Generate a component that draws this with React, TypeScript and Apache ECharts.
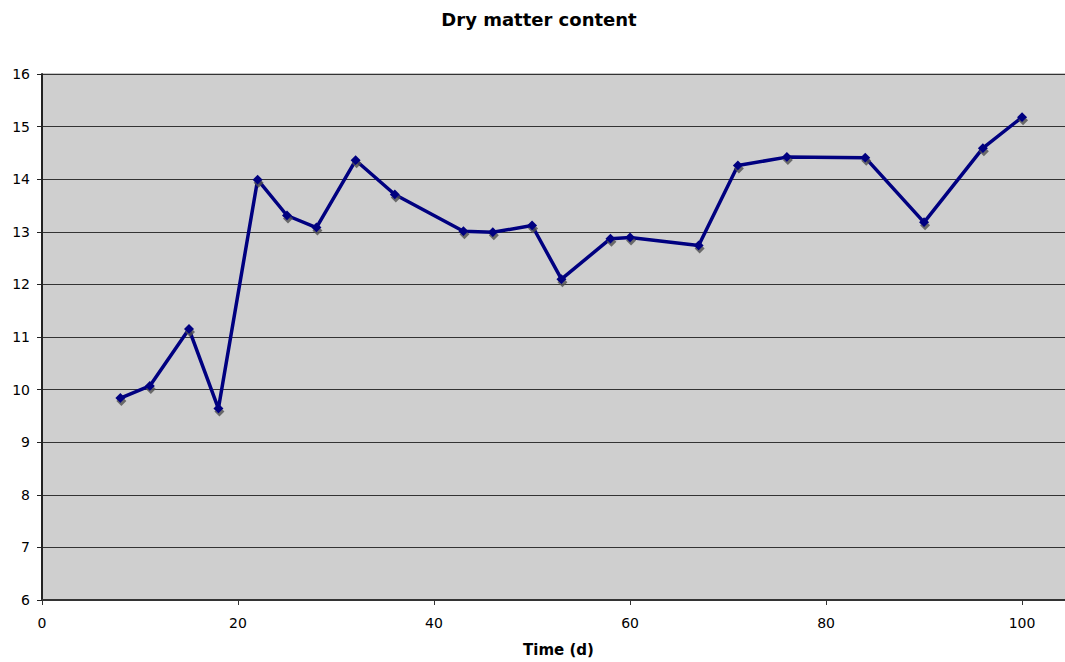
import React, { useEffect, useRef } from "react";
import * as echarts from "echarts";

const days = [8, 11, 15, 18, 22, 25, 28, 32, 36, 43, 46, 50, 53, 58, 60, 67, 71, 76, 84, 90, 96, 100];
const dryMatter = [9.84, 10.07, 11.15, 9.64, 13.99, 13.31, 13.08, 14.36, 13.71, 13.01, 12.99, 13.12, 12.1, 12.87, 12.89, 12.74, 14.26, 14.42, 14.41, 13.18, 14.59, 15.18];
const xTicks = [0, 20, 40, 60, 80, 100];

export default function App() {
  const ref = useRef<HTMLDivElement>(null);
  useEffect(() => {
    document.body.style.margin = "0";
    document.body.style.overflow = "hidden";
    const chart = echarts.init(ref.current!, null, { renderer: "svg" });
    const font = "DejaVu Sans, Verdana, sans-serif";
    chart.setOption({
      animation: false,
      backgroundColor: "#ffffff",
      title: {
        text: "Dry matter content",
        left: 534,
        textAlign: "center",
        top: 5,
        textStyle: { fontFamily: font, fontSize: 18, fontWeight: "bold", color: "#000" },
      },
      grid: {
        left: 42,
        right: 0,
        top: 74,
        bottom: 60,
        show: true,
        backgroundColor: "#cfcfcf",
        borderColor: "#8a8a8a",
        borderWidth: 1,
      },
      xAxis: {
        type: "value",
        min: 0,
        max: 105.4,
        name: "Time (d)",
        nameLocation: "middle",
        nameGap: 42,
        nameTextStyle: { fontFamily: font, fontSize: 15, fontWeight: "bold", color: "#000", padding: [0, 0, 0, 0] },
        axisLine: { show: true, onZero: false, lineStyle: { color: "#333", width: 2 } },
        axisTick: { show: true, length: 5, customValues: xTicks, lineStyle: { color: "#333" } },
        axisLabel: {
          customValues: xTicks,
          margin: 16,
          fontFamily: font,
          fontSize: 14,
          color: "#000",
        },
        splitLine: { show: false },
      },
      yAxis: {
        type: "value",
        min: 6,
        max: 16,
        interval: 1,
        axisLine: { show: true, onZero: false, lineStyle: { color: "#222", width: 2 } },
        axisTick: { show: true, length: 5, lineStyle: { color: "#222" } },
        axisLabel: { margin: 12, fontFamily: font, fontSize: 14, color: "#000" },
        splitLine: { show: true, lineStyle: { color: "#333", width: 1 } },
      },
      series: [
        {
          type: "line",
          data: days.map((d, i) => [d, dryMatter[i]]),
          symbol: "diamond",
          symbolSize: 10,
          lineStyle: {
            color: "#000080",
            width: 3.5,
          },
          itemStyle: {
            color: "#000080",
            shadowColor: "rgba(80,80,80,0.8)",
            shadowOffsetX: 1,
            shadowOffsetY: 3,
            shadowBlur: 1,
          },
        },
      ],
    });
    return () => chart.dispose();
  }, []);
  return (
    <div style={{ width: 1065, height: 662, overflow: "hidden" }}>
      <div ref={ref} style={{ width: 1075, height: 662 }} />
    </div>
  );
}
